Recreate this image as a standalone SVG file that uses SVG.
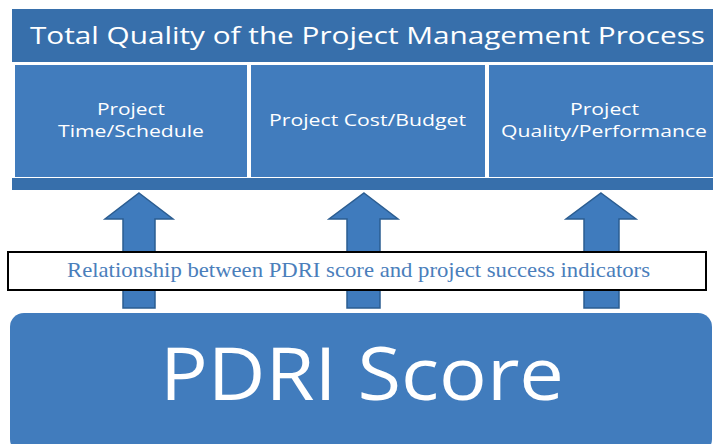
<svg xmlns="http://www.w3.org/2000/svg" width="713" height="444" viewBox="0 0 713 444">
<style>
.band{fill:#376fab}
.cell{fill:#417cbd}
.arrow{fill:#3f7bbd;stroke:#2b5d91;stroke-width:1.5}
.wt{fill:#fff;font-family:"Open Sans","Noto Sans",sans-serif;text-anchor:middle}
.ct{font-size:17px}
.lbl{fill:#4a7ebb;font-family:"Liberation Serif",serif;font-size:21px;text-anchor:middle}
</style>
<rect width="713" height="444" fill="#fff"/>
<g id="title">
<rect class="band" x="12" y="9" width="701" height="53"/>
<text class="wt" x="367.5" y="44" font-size="24" textLength="675" lengthAdjust="spacingAndGlyphs">Total Quality of the Project Management Process</text>
</g>
<g id="cell-time">
<rect class="cell" x="15" y="65" width="232" height="112"/>
<text class="wt ct" x="131" y="115" textLength="68" lengthAdjust="spacingAndGlyphs">Project</text>
<text class="wt ct" x="131" y="137" textLength="146" lengthAdjust="spacingAndGlyphs">Time/Schedule</text>
</g>
<g id="cell-cost">
<rect class="cell" x="251" y="65" width="234" height="112"/>
<text class="wt ct" x="367.5" y="126" textLength="197" lengthAdjust="spacingAndGlyphs">Project Cost/Budget</text>
</g>
<g id="cell-quality">
<rect class="cell" x="489" y="65" width="224" height="112"/>
<text class="wt ct" x="604.5" y="115" textLength="69" lengthAdjust="spacingAndGlyphs">Project</text>
<text class="wt ct" x="604" y="137" textLength="206" lengthAdjust="spacingAndGlyphs">Quality/Performance</text>
</g>
<g id="base-bar">
<rect class="band" x="12" y="178" width="701" height="12"/>
</g>
<g id="connectors">
<path class="arrow" d="M139 193 L173 219 L155 219 L155 308 L123 308 L123 219 L105 219 Z"/>
<path class="arrow" d="M364 193 L398 219 L380 219 L380 308 L347 308 L347 219 L329 219 Z"/>
<path class="arrow" d="M601 193 L636 219 L619 219 L619 308 L584 308 L584 219 L566 219 Z"/>
</g>
<g id="relationship">
<rect x="8" y="252" width="698" height="38" fill="#fff" stroke="#000" stroke-width="2"/>
<text class="lbl" x="358.5" y="277" textLength="583" lengthAdjust="spacingAndGlyphs">Relationship between PDRI score and project success indicators</text>
</g>
<g id="pdri">
<rect class="cell" x="10" y="313" width="702" height="140" rx="14"/>
<text class="wt" x="362" y="400" font-size="74" textLength="404" lengthAdjust="spacingAndGlyphs">PDRI Score</text>
</g>
</svg>
